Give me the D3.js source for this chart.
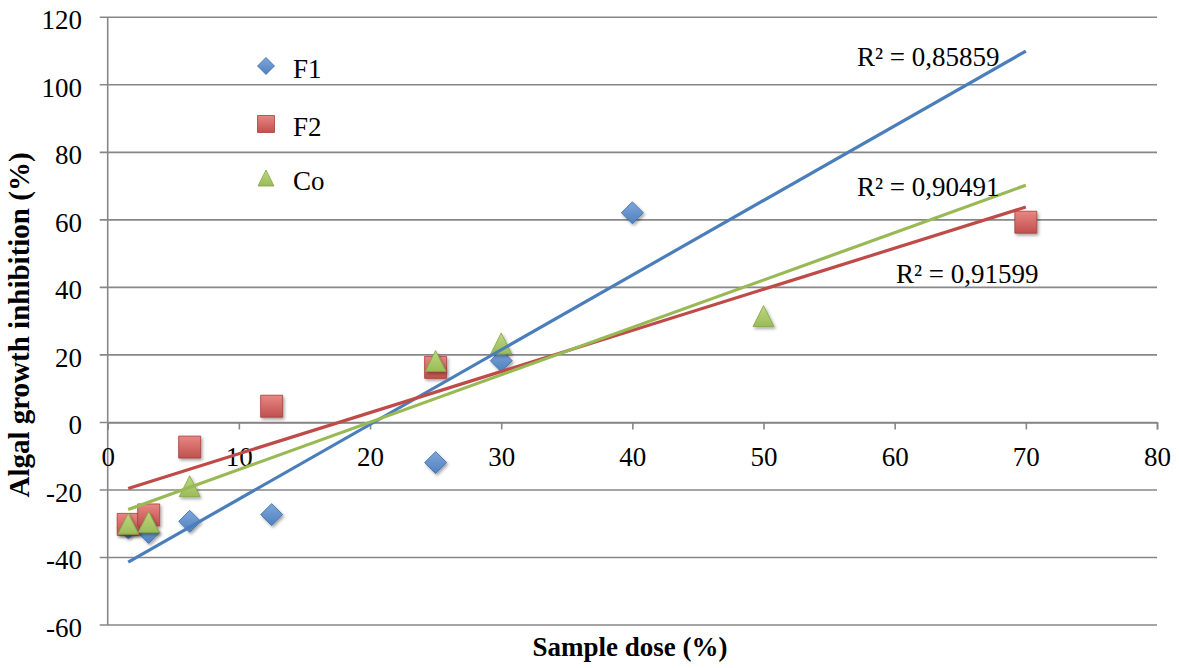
<!DOCTYPE html>
<html>
<head>
<meta charset="utf-8">
<script src="https://cdn.jsdelivr.net/npm/d3@7"></script>
<style>
  html, body { margin: 0; padding: 0; background: #fff; }
  svg { display: block; }
</style>
</head>
<body>
<div id="chart"></div>
<script>
// ---- data ----
const seriesNames = ["F1", "F2", "Co"];
const doseF1 = [1.5625, 3.125, 6.25, 12.5, 25, 30, 40];
const valF1  = [-31.2, -32.6, -29.3, -27.3, -11.9, 18.3, 62.1];
const doseF2 = [1.5625, 3.125, 6.25, 12.5, 25, 70];
const valF2  = [-30.2, -27.4, -7.3, 4.8, 16.3, 59.3];
const doseCo = [1.5625, 3.125, 6.25, 25, 30, 50];
const valCo  = [-30.0, -29.5, -18.9, 18.2, 23.4, 31.5];
const r2Labels = ["R² = 0,85859", "R² = 0,91599", "R² = 0,90491"];
const trendRange = [1.5625, 70];
const xTicks = [0, 10, 20, 30, 40, 50, 60, 70, 80];
const yTicks = [-60, -40, -20, 0, 20, 40, 60, 80, 100, 120];
const xTitle = "Sample dose (%)";
const yTitle = "Algal growth inhibition (%)";

// ---- layout ----
const FONT = "Liberation Serif";
const W = 1179, H = 668;
const plot = { left: 107.7, right: 1157, top: 17.3, bottom: 625 };
const colors = {
  F1: { main: "#4F81BD", light: "#7fa6dc", dark: "#3a6aa8", line: "#4A7EBB" },
  F2: { main: "#C0504D", light: "#e88783", dark: "#a53f3c", line: "#BE4B48" },
  Co: { main: "#9BBB59", light: "#bcd97c", dark: "#82a342", line: "#98B954" }
};
const labelPos = { F1: [857, 66], F2: [896, 283], Co: [857, 196] };

const series = [
  { name: "F1", x: doseF1, y: valF1, r2: r2Labels[0], shape: "diamond" },
  { name: "F2", x: doseF2, y: valF2, r2: r2Labels[1], shape: "square" },
  { name: "Co", x: doseCo, y: valCo, r2: r2Labels[2], shape: "triangle" }
];

const svg = d3.select("#chart").append("svg").attr("width", W).attr("height", H)
  .attr("font-family", FONT);
const defs = svg.append("defs");
const f = defs.append("filter").attr("id", "shadow").attr("x", "-50%").attr("y", "-50%").attr("width", "200%").attr("height", "200%");
f.append("feDropShadow").attr("dx", 1.5).attr("dy", 2).attr("stdDeviation", 1.6).attr("flood-color", "#000").attr("flood-opacity", 0.35);
series.forEach(s => {
  const c = colors[s.name];
  const g = defs.append("linearGradient").attr("id", "grad" + s.name).attr("x1", 0).attr("y1", 0).attr("x2", 0).attr("y2", 1);
  g.append("stop").attr("offset", "0%").attr("stop-color", c.light);
  g.append("stop").attr("offset", "100%").attr("stop-color", c.main);
});

const x = d3.scaleLinear().domain([0, 80]).range([plot.left, plot.right]);
const y = d3.scaleLinear().domain([-60, 120]).range([plot.bottom, plot.top]);

const gridColor = "#878787";

// horizontal gridlines
svg.append("g").selectAll("line").data(yTicks).join("line")
  .attr("x1", plot.left - 8).attr("x2", plot.right)
  .attr("y1", d => y(d)).attr("y2", d => y(d))
  .attr("stroke", gridColor).attr("stroke-width", 1.6);

// y axis line
svg.append("line").attr("x1", plot.left).attr("x2", plot.left)
  .attr("y1", plot.top).attr("y2", plot.bottom)
  .attr("stroke", gridColor).attr("stroke-width", 1.6);

// x axis (at y = 0)
const xAxis = svg.append("g").attr("transform", `translate(0,${y(0)})`)
  .call(d3.axisBottom(x).tickValues(xTicks).tickSize(7).tickFormat(d3.format("d")));
xAxis.attr("font-family", FONT).attr("font-size", 27);
xAxis.select(".domain").attr("stroke", gridColor).attr("stroke-width", 1.6);
xAxis.selectAll(".tick line").attr("stroke", gridColor).attr("stroke-width", 1.6);
xAxis.selectAll(".tick text").attr("font-family", FONT).attr("font-size", 27)
  .attr("dy", 0).attr("y", 44).attr("fill", "#000");

// y tick labels
svg.append("g").selectAll("text").data(yTicks).join("text")
  .attr("font-family", FONT)
  .attr("x", 82).attr("y", d => y(d) + 12)
  .attr("text-anchor", "end").attr("font-size", 27)
  .text(d => d);

// markers
function markerPath(shape, size) {
  const h = size / 2;
  if (shape === "diamond") return `M0,${-h}L${h},0L0,${h}L${-h},0Z`;
  if (shape === "square") return `M${-h},${-h}H${h}V${h}H${-h}Z`;
  return `M0,${-h}L${h},${h}L${-h},${h}Z`;
}
const markerSize = { diamond: 22, square: 22, triangle: 21 };

series.forEach(s => {
  const c = colors[s.name];
  const pts = s.x.map((xv, i) => [xv, s.y[i]]);
  svg.append("g").selectAll("path").data(pts).join("path")
    .attr("transform", d => `translate(${x(d[0])},${y(d[1])})`)
    .attr("d", markerPath(s.shape, markerSize[s.shape]))
    .attr("fill", `url(#grad${s.name})`)
    .attr("stroke", c.dark).attr("stroke-width", 0.8)
    .attr("filter", "url(#shadow)");
});

// linear trendlines (least squares)
function fit(xs, ys) {
  const n = xs.length;
  const mx = d3.mean(xs), my = d3.mean(ys);
  let sxy = 0, sxx = 0;
  for (let i = 0; i < n; i++) { sxy += (xs[i] - mx) * (ys[i] - my); sxx += (xs[i] - mx) ** 2; }
  const b = sxy / sxx;
  return { b, a: my - b * mx };
}
series.forEach(s => {
  const { a, b } = fit(s.x, s.y);
  const pts = trendRange.map(xv => [xv, a + b * xv]);
  svg.append("path")
    .attr("d", d3.line().x(d => x(d[0])).y(d => y(d[1]))(pts))
    .attr("stroke", colors[s.name].line).attr("stroke-width", 3.2).attr("fill", "none");
  svg.append("text").attr("font-family", FONT)
    .attr("x", labelPos[s.name][0]).attr("y", labelPos[s.name][1])
    .attr("font-size", 27).text(s.r2);
});

// legend
const legend = svg.append("g");
const legY = [66, 124, 178];
const legSize = { diamond: 17, square: 17, triangle: 16 };
series.forEach((s, i) => {
  const c = colors[s.name];
  legend.append("path")
    .attr("transform", `translate(266,${legY[i]})`)
    .attr("d", markerPath(s.shape, legSize[s.shape]))
    .attr("fill", `url(#grad${s.name})`)
    .attr("stroke", c.dark).attr("stroke-width", 0.8);
  legend.append("text").attr("font-family", FONT)
    .attr("x", 293).attr("y", legY[i] + 12)
    .attr("font-size", 27).text(s.name);
});

// axis titles
svg.append("text").attr("font-family", FONT).attr("x", 630).attr("y", 656)
  .attr("text-anchor", "middle").attr("font-size", 27).attr("font-weight", "bold")
  .text(xTitle);
svg.append("text").attr("font-family", FONT)
  .attr("transform", `translate(29,325) rotate(-90)`)
  .attr("text-anchor", "middle").attr("font-size", 29).attr("font-weight", "bold")
  .text(yTitle);
</script>
</body>
</html>
